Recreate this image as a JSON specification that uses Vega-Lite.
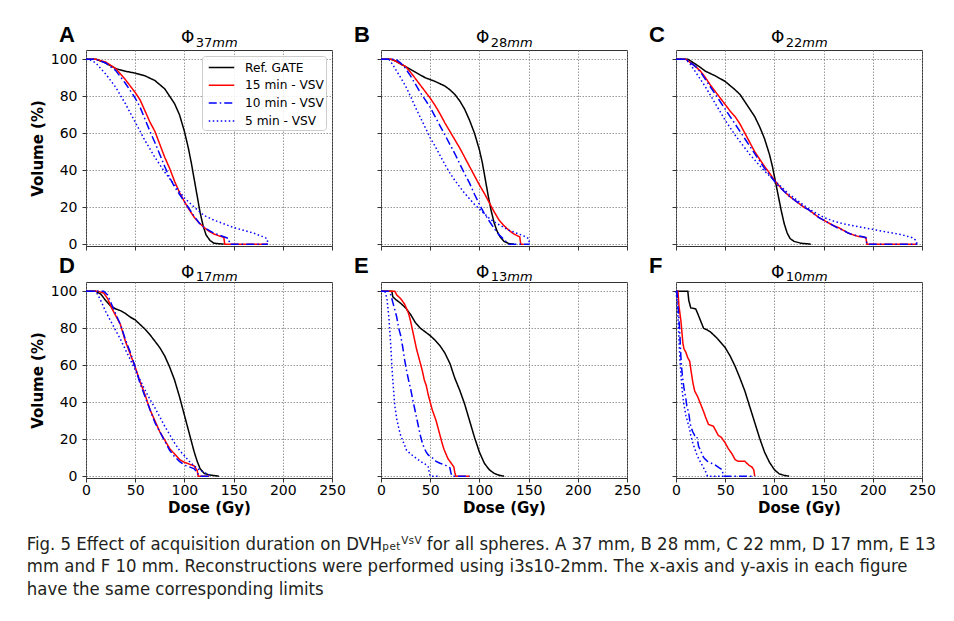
{
  "$schema": "https://vega.github.io/schema/vega-lite/v6.json",
  "background": "white",
  "padding": {"left": 26, "top": 23, "right": 5, "bottom": 5},
  "bounds": "flush",
  "columns": 3,
  "spacing": {"row": 36, "column": 49},
  "title": {
    "text": [
      "Fig. 5  Effect of acquisition duration on DVHₚₑₜⱽˢⱽ for all spheres. A 37 mm, B 28 mm, C 22 mm, D 17 mm, E 13",
      "mm and F 10 mm. Reconstructions were performed using i3s10-2mm. The x-axis and y-axis in each figure",
      "have the same corresponding limits"
    ],
    "orient": "bottom",
    "anchor": "start",
    "frame": "bounds",
    "font": "DejaVu Sans Condensed",
    "fontSize": 18.4,
    "fontWeight": "normal",
    "lineHeight": 22.5,
    "offset": 19,
    "dx": -3,
    "color": "#231f20"
  },
  "resolve": {"legend": {"color": "independent", "strokeDash": "independent"}},
  "datasets": {
    "dvh": [
      {"p":"A","s":"Ref. GATE","d":0,"v":100},{"p":"A","s":"Ref. GATE","d":10,"v":100},{"p":"A","s":"Ref. GATE","d":20,"v":98},{"p":"A","s":"Ref. GATE","d":30,"v":95},{"p":"A","s":"Ref. GATE","d":40,"v":93.5},{"p":"A","s":"Ref. GATE","d":50,"v":92.5},{"p":"A","s":"Ref. GATE","d":60,"v":91},{"p":"A","s":"Ref. GATE","d":70,"v":88.5},{"p":"A","s":"Ref. GATE","d":80,"v":84},{"p":"A","s":"Ref. GATE","d":90,"v":76},{"p":"A","s":"Ref. GATE","d":95,"v":70},{"p":"A","s":"Ref. GATE","d":100,"v":61},{"p":"A","s":"Ref. GATE","d":104,"v":52},{"p":"A","s":"Ref. GATE","d":107,"v":44},{"p":"A","s":"Ref. GATE","d":110,"v":35},{"p":"A","s":"Ref. GATE","d":113,"v":26},{"p":"A","s":"Ref. GATE","d":116,"v":17},{"p":"A","s":"Ref. GATE","d":119,"v":10},{"p":"A","s":"Ref. GATE","d":122,"v":5},{"p":"A","s":"Ref. GATE","d":126,"v":2},{"p":"A","s":"Ref. GATE","d":130,"v":0.5},{"p":"A","s":"Ref. GATE","d":140,"v":0},
      {"p":"A","s":"15 min - VSV","d":0,"v":100},{"p":"A","s":"15 min - VSV","d":10,"v":100},{"p":"A","s":"15 min - VSV","d":20,"v":98.5},{"p":"A","s":"15 min - VSV","d":30,"v":95},{"p":"A","s":"15 min - VSV","d":40,"v":89},{"p":"A","s":"15 min - VSV","d":50,"v":82},{"p":"A","s":"15 min - VSV","d":55,"v":78},{"p":"A","s":"15 min - VSV","d":60,"v":72},{"p":"A","s":"15 min - VSV","d":65,"v":66},{"p":"A","s":"15 min - VSV","d":70,"v":61},{"p":"A","s":"15 min - VSV","d":75,"v":54},{"p":"A","s":"15 min - VSV","d":80,"v":47},{"p":"A","s":"15 min - VSV","d":85,"v":41},{"p":"A","s":"15 min - VSV","d":90,"v":34},{"p":"A","s":"15 min - VSV","d":95,"v":28},{"p":"A","s":"15 min - VSV","d":100,"v":23},{"p":"A","s":"15 min - VSV","d":105,"v":18.5},{"p":"A","s":"15 min - VSV","d":110,"v":14.5},{"p":"A","s":"15 min - VSV","d":115,"v":11.5},{"p":"A","s":"15 min - VSV","d":120,"v":9},{"p":"A","s":"15 min - VSV","d":125,"v":7},{"p":"A","s":"15 min - VSV","d":130,"v":5.5},{"p":"A","s":"15 min - VSV","d":135,"v":4.5},{"p":"A","s":"15 min - VSV","d":140,"v":3.8},{"p":"A","s":"15 min - VSV","d":141,"v":0},{"p":"A","s":"15 min - VSV","d":185,"v":0},
      {"p":"A","s":"10 min - VSV","d":0,"v":100},{"p":"A","s":"10 min - VSV","d":10,"v":100},{"p":"A","s":"10 min - VSV","d":20,"v":98},{"p":"A","s":"10 min - VSV","d":30,"v":94},{"p":"A","s":"10 min - VSV","d":40,"v":87},{"p":"A","s":"10 min - VSV","d":50,"v":79},{"p":"A","s":"10 min - VSV","d":55,"v":74},{"p":"A","s":"10 min - VSV","d":60,"v":67.5},{"p":"A","s":"10 min - VSV","d":65,"v":61},{"p":"A","s":"10 min - VSV","d":70,"v":55},{"p":"A","s":"10 min - VSV","d":75,"v":48.5},{"p":"A","s":"10 min - VSV","d":80,"v":42},{"p":"A","s":"10 min - VSV","d":85,"v":36},{"p":"A","s":"10 min - VSV","d":90,"v":31},{"p":"A","s":"10 min - VSV","d":95,"v":27},{"p":"A","s":"10 min - VSV","d":100,"v":23},{"p":"A","s":"10 min - VSV","d":105,"v":19},{"p":"A","s":"10 min - VSV","d":110,"v":15},{"p":"A","s":"10 min - VSV","d":115,"v":11.5},{"p":"A","s":"10 min - VSV","d":120,"v":9},{"p":"A","s":"10 min - VSV","d":125,"v":7.5},{"p":"A","s":"10 min - VSV","d":130,"v":6},{"p":"A","s":"10 min - VSV","d":135,"v":5},{"p":"A","s":"10 min - VSV","d":140,"v":4},{"p":"A","s":"10 min - VSV","d":145,"v":3},{"p":"A","s":"10 min - VSV","d":146,"v":0},{"p":"A","s":"10 min - VSV","d":185,"v":0},
      {"p":"A","s":"5 min - VSV","d":0,"v":100},{"p":"A","s":"5 min - VSV","d":5,"v":99.5},{"p":"A","s":"5 min - VSV","d":10,"v":98},{"p":"A","s":"5 min - VSV","d":20,"v":92},{"p":"A","s":"5 min - VSV","d":30,"v":85},{"p":"A","s":"5 min - VSV","d":40,"v":76},{"p":"A","s":"5 min - VSV","d":50,"v":66},{"p":"A","s":"5 min - VSV","d":60,"v":56},{"p":"A","s":"5 min - VSV","d":70,"v":47},{"p":"A","s":"5 min - VSV","d":80,"v":39},{"p":"A","s":"5 min - VSV","d":90,"v":32},{"p":"A","s":"5 min - VSV","d":100,"v":25},{"p":"A","s":"5 min - VSV","d":110,"v":20},{"p":"A","s":"5 min - VSV","d":120,"v":15.5},{"p":"A","s":"5 min - VSV","d":130,"v":13},{"p":"A","s":"5 min - VSV","d":140,"v":11},{"p":"A","s":"5 min - VSV","d":150,"v":9},{"p":"A","s":"5 min - VSV","d":160,"v":7.5},{"p":"A","s":"5 min - VSV","d":170,"v":6},{"p":"A","s":"5 min - VSV","d":180,"v":4},{"p":"A","s":"5 min - VSV","d":184,"v":3},{"p":"A","s":"5 min - VSV","d":185,"v":0},

      {"p":"B","s":"Ref. GATE","d":0,"v":100},{"p":"B","s":"Ref. GATE","d":10,"v":100},{"p":"B","s":"Ref. GATE","d":15,"v":99},{"p":"B","s":"Ref. GATE","d":20,"v":97.5},{"p":"B","s":"Ref. GATE","d":25,"v":96},{"p":"B","s":"Ref. GATE","d":35,"v":93},{"p":"B","s":"Ref. GATE","d":45,"v":90},{"p":"B","s":"Ref. GATE","d":55,"v":88},{"p":"B","s":"Ref. GATE","d":65,"v":85.5},{"p":"B","s":"Ref. GATE","d":70,"v":83.5},{"p":"B","s":"Ref. GATE","d":75,"v":81},{"p":"B","s":"Ref. GATE","d":80,"v":77.5},{"p":"B","s":"Ref. GATE","d":85,"v":73},{"p":"B","s":"Ref. GATE","d":90,"v":67},{"p":"B","s":"Ref. GATE","d":95,"v":60},{"p":"B","s":"Ref. GATE","d":100,"v":51},{"p":"B","s":"Ref. GATE","d":103,"v":44},{"p":"B","s":"Ref. GATE","d":106,"v":35},{"p":"B","s":"Ref. GATE","d":109,"v":26},{"p":"B","s":"Ref. GATE","d":112,"v":18},{"p":"B","s":"Ref. GATE","d":115,"v":11.5},{"p":"B","s":"Ref. GATE","d":118,"v":7},{"p":"B","s":"Ref. GATE","d":121,"v":4},{"p":"B","s":"Ref. GATE","d":125,"v":1.5},{"p":"B","s":"Ref. GATE","d":130,"v":0.3},{"p":"B","s":"Ref. GATE","d":135,"v":0},
      {"p":"B","s":"15 min - VSV","d":0,"v":100},{"p":"B","s":"15 min - VSV","d":10,"v":100},{"p":"B","s":"15 min - VSV","d":15,"v":99},{"p":"B","s":"15 min - VSV","d":20,"v":97.5},{"p":"B","s":"15 min - VSV","d":25,"v":96},{"p":"B","s":"15 min - VSV","d":30,"v":93},{"p":"B","s":"15 min - VSV","d":35,"v":89.5},{"p":"B","s":"15 min - VSV","d":40,"v":86},{"p":"B","s":"15 min - VSV","d":45,"v":82.5},{"p":"B","s":"15 min - VSV","d":50,"v":79},{"p":"B","s":"15 min - VSV","d":55,"v":75},{"p":"B","s":"15 min - VSV","d":60,"v":70.5},{"p":"B","s":"15 min - VSV","d":65,"v":65.5},{"p":"B","s":"15 min - VSV","d":70,"v":61},{"p":"B","s":"15 min - VSV","d":75,"v":56.5},{"p":"B","s":"15 min - VSV","d":80,"v":52},{"p":"B","s":"15 min - VSV","d":85,"v":47},{"p":"B","s":"15 min - VSV","d":90,"v":42},{"p":"B","s":"15 min - VSV","d":95,"v":37},{"p":"B","s":"15 min - VSV","d":100,"v":32},{"p":"B","s":"15 min - VSV","d":105,"v":27.5},{"p":"B","s":"15 min - VSV","d":110,"v":22.5},{"p":"B","s":"15 min - VSV","d":115,"v":17.5},{"p":"B","s":"15 min - VSV","d":120,"v":13},{"p":"B","s":"15 min - VSV","d":125,"v":10},{"p":"B","s":"15 min - VSV","d":130,"v":7.5},{"p":"B","s":"15 min - VSV","d":135,"v":5.5},{"p":"B","s":"15 min - VSV","d":140,"v":4.2},{"p":"B","s":"15 min - VSV","d":141,"v":4},{"p":"B","s":"15 min - VSV","d":142,"v":0},{"p":"B","s":"15 min - VSV","d":145,"v":0},
      {"p":"B","s":"10 min - VSV","d":0,"v":100},{"p":"B","s":"10 min - VSV","d":15,"v":100},{"p":"B","s":"10 min - VSV","d":20,"v":98},{"p":"B","s":"10 min - VSV","d":25,"v":95},{"p":"B","s":"10 min - VSV","d":30,"v":91},{"p":"B","s":"10 min - VSV","d":35,"v":86.5},{"p":"B","s":"10 min - VSV","d":40,"v":82},{"p":"B","s":"10 min - VSV","d":45,"v":78},{"p":"B","s":"10 min - VSV","d":50,"v":74},{"p":"B","s":"10 min - VSV","d":55,"v":69},{"p":"B","s":"10 min - VSV","d":60,"v":64},{"p":"B","s":"10 min - VSV","d":65,"v":59},{"p":"B","s":"10 min - VSV","d":70,"v":54},{"p":"B","s":"10 min - VSV","d":75,"v":49},{"p":"B","s":"10 min - VSV","d":80,"v":43.5},{"p":"B","s":"10 min - VSV","d":85,"v":38},{"p":"B","s":"10 min - VSV","d":90,"v":33},{"p":"B","s":"10 min - VSV","d":95,"v":27},{"p":"B","s":"10 min - VSV","d":100,"v":21.5},{"p":"B","s":"10 min - VSV","d":105,"v":16.5},{"p":"B","s":"10 min - VSV","d":110,"v":12.5},{"p":"B","s":"10 min - VSV","d":115,"v":8.5},{"p":"B","s":"10 min - VSV","d":120,"v":5},{"p":"B","s":"10 min - VSV","d":125,"v":2.5},{"p":"B","s":"10 min - VSV","d":128,"v":1},{"p":"B","s":"10 min - VSV","d":130,"v":0},{"p":"B","s":"10 min - VSV","d":151,"v":0},
      {"p":"B","s":"5 min - VSV","d":0,"v":100},{"p":"B","s":"5 min - VSV","d":8,"v":100},{"p":"B","s":"5 min - VSV","d":12,"v":97},{"p":"B","s":"5 min - VSV","d":20,"v":90},{"p":"B","s":"5 min - VSV","d":25,"v":85.5},{"p":"B","s":"5 min - VSV","d":30,"v":80},{"p":"B","s":"5 min - VSV","d":35,"v":74},{"p":"B","s":"5 min - VSV","d":40,"v":68.5},{"p":"B","s":"5 min - VSV","d":45,"v":63},{"p":"B","s":"5 min - VSV","d":50,"v":57.5},{"p":"B","s":"5 min - VSV","d":55,"v":53},{"p":"B","s":"5 min - VSV","d":60,"v":48},{"p":"B","s":"5 min - VSV","d":65,"v":43},{"p":"B","s":"5 min - VSV","d":70,"v":38.5},{"p":"B","s":"5 min - VSV","d":75,"v":34.5},{"p":"B","s":"5 min - VSV","d":80,"v":31},{"p":"B","s":"5 min - VSV","d":85,"v":27.5},{"p":"B","s":"5 min - VSV","d":90,"v":24.5},{"p":"B","s":"5 min - VSV","d":95,"v":21.5},{"p":"B","s":"5 min - VSV","d":100,"v":19},{"p":"B","s":"5 min - VSV","d":105,"v":16.5},{"p":"B","s":"5 min - VSV","d":110,"v":14},{"p":"B","s":"5 min - VSV","d":115,"v":12},{"p":"B","s":"5 min - VSV","d":120,"v":10.5},{"p":"B","s":"5 min - VSV","d":125,"v":9},{"p":"B","s":"5 min - VSV","d":130,"v":7.5},{"p":"B","s":"5 min - VSV","d":135,"v":6.5},{"p":"B","s":"5 min - VSV","d":140,"v":5.5},{"p":"B","s":"5 min - VSV","d":145,"v":4.5},{"p":"B","s":"5 min - VSV","d":150,"v":3},{"p":"B","s":"5 min - VSV","d":151,"v":0},

      {"p":"C","s":"Ref. GATE","d":0,"v":100},{"p":"C","s":"Ref. GATE","d":12,"v":100},{"p":"C","s":"Ref. GATE","d":18,"v":98},{"p":"C","s":"Ref. GATE","d":25,"v":95.5},{"p":"C","s":"Ref. GATE","d":30,"v":93.5},{"p":"C","s":"Ref. GATE","d":40,"v":91},{"p":"C","s":"Ref. GATE","d":50,"v":88},{"p":"C","s":"Ref. GATE","d":60,"v":83.5},{"p":"C","s":"Ref. GATE","d":65,"v":81},{"p":"C","s":"Ref. GATE","d":70,"v":77},{"p":"C","s":"Ref. GATE","d":75,"v":73},{"p":"C","s":"Ref. GATE","d":80,"v":69},{"p":"C","s":"Ref. GATE","d":85,"v":63.5},{"p":"C","s":"Ref. GATE","d":90,"v":57},{"p":"C","s":"Ref. GATE","d":95,"v":48.5},{"p":"C","s":"Ref. GATE","d":98,"v":42},{"p":"C","s":"Ref. GATE","d":101,"v":34},{"p":"C","s":"Ref. GATE","d":104,"v":26},{"p":"C","s":"Ref. GATE","d":107,"v":18},{"p":"C","s":"Ref. GATE","d":110,"v":11},{"p":"C","s":"Ref. GATE","d":113,"v":6},{"p":"C","s":"Ref. GATE","d":116,"v":3},{"p":"C","s":"Ref. GATE","d":120,"v":1.5},{"p":"C","s":"Ref. GATE","d":127,"v":0.5},{"p":"C","s":"Ref. GATE","d":137,"v":0},
      {"p":"C","s":"15 min - VSV","d":0,"v":100},{"p":"C","s":"15 min - VSV","d":10,"v":100},{"p":"C","s":"15 min - VSV","d":15,"v":98},{"p":"C","s":"15 min - VSV","d":20,"v":96},{"p":"C","s":"15 min - VSV","d":25,"v":93.5},{"p":"C","s":"15 min - VSV","d":30,"v":90},{"p":"C","s":"15 min - VSV","d":35,"v":86},{"p":"C","s":"15 min - VSV","d":40,"v":82.5},{"p":"C","s":"15 min - VSV","d":45,"v":79},{"p":"C","s":"15 min - VSV","d":50,"v":75.5},{"p":"C","s":"15 min - VSV","d":55,"v":72},{"p":"C","s":"15 min - VSV","d":60,"v":69},{"p":"C","s":"15 min - VSV","d":65,"v":65},{"p":"C","s":"15 min - VSV","d":70,"v":60},{"p":"C","s":"15 min - VSV","d":75,"v":55},{"p":"C","s":"15 min - VSV","d":80,"v":50},{"p":"C","s":"15 min - VSV","d":85,"v":46},{"p":"C","s":"15 min - VSV","d":90,"v":42},{"p":"C","s":"15 min - VSV","d":95,"v":38.5},{"p":"C","s":"15 min - VSV","d":100,"v":34.5},{"p":"C","s":"15 min - VSV","d":105,"v":31.5},{"p":"C","s":"15 min - VSV","d":110,"v":28.5},{"p":"C","s":"15 min - VSV","d":115,"v":26},{"p":"C","s":"15 min - VSV","d":120,"v":24},{"p":"C","s":"15 min - VSV","d":125,"v":22},{"p":"C","s":"15 min - VSV","d":130,"v":20},{"p":"C","s":"15 min - VSV","d":135,"v":18.5},{"p":"C","s":"15 min - VSV","d":140,"v":16.5},{"p":"C","s":"15 min - VSV","d":145,"v":14.5},{"p":"C","s":"15 min - VSV","d":150,"v":13},{"p":"C","s":"15 min - VSV","d":155,"v":11.5},{"p":"C","s":"15 min - VSV","d":160,"v":10},{"p":"C","s":"15 min - VSV","d":165,"v":9},{"p":"C","s":"15 min - VSV","d":170,"v":7.5},{"p":"C","s":"15 min - VSV","d":175,"v":6},{"p":"C","s":"15 min - VSV","d":180,"v":5},{"p":"C","s":"15 min - VSV","d":185,"v":4.2},{"p":"C","s":"15 min - VSV","d":190,"v":3.8},{"p":"C","s":"15 min - VSV","d":193,"v":3.5},{"p":"C","s":"15 min - VSV","d":194,"v":0},{"p":"C","s":"15 min - VSV","d":245,"v":0},
      {"p":"C","s":"10 min - VSV","d":0,"v":100},{"p":"C","s":"10 min - VSV","d":10,"v":100},{"p":"C","s":"10 min - VSV","d":15,"v":98},{"p":"C","s":"10 min - VSV","d":20,"v":96},{"p":"C","s":"10 min - VSV","d":25,"v":93},{"p":"C","s":"10 min - VSV","d":30,"v":89},{"p":"C","s":"10 min - VSV","d":35,"v":85},{"p":"C","s":"10 min - VSV","d":40,"v":81},{"p":"C","s":"10 min - VSV","d":45,"v":77},{"p":"C","s":"10 min - VSV","d":50,"v":73},{"p":"C","s":"10 min - VSV","d":55,"v":69},{"p":"C","s":"10 min - VSV","d":60,"v":65},{"p":"C","s":"10 min - VSV","d":65,"v":61},{"p":"C","s":"10 min - VSV","d":70,"v":57},{"p":"C","s":"10 min - VSV","d":75,"v":53},{"p":"C","s":"10 min - VSV","d":80,"v":49},{"p":"C","s":"10 min - VSV","d":85,"v":45},{"p":"C","s":"10 min - VSV","d":90,"v":41},{"p":"C","s":"10 min - VSV","d":95,"v":37.5},{"p":"C","s":"10 min - VSV","d":100,"v":34},{"p":"C","s":"10 min - VSV","d":105,"v":31},{"p":"C","s":"10 min - VSV","d":110,"v":28.5},{"p":"C","s":"10 min - VSV","d":115,"v":26},{"p":"C","s":"10 min - VSV","d":120,"v":24},{"p":"C","s":"10 min - VSV","d":125,"v":22},{"p":"C","s":"10 min - VSV","d":130,"v":20},{"p":"C","s":"10 min - VSV","d":135,"v":18.5},{"p":"C","s":"10 min - VSV","d":140,"v":16.5},{"p":"C","s":"10 min - VSV","d":145,"v":14.5},{"p":"C","s":"10 min - VSV","d":150,"v":13},{"p":"C","s":"10 min - VSV","d":155,"v":11.5},{"p":"C","s":"10 min - VSV","d":160,"v":10},{"p":"C","s":"10 min - VSV","d":165,"v":8.5},{"p":"C","s":"10 min - VSV","d":170,"v":7.5},{"p":"C","s":"10 min - VSV","d":175,"v":6},{"p":"C","s":"10 min - VSV","d":180,"v":5},{"p":"C","s":"10 min - VSV","d":185,"v":4.5},{"p":"C","s":"10 min - VSV","d":190,"v":4},{"p":"C","s":"10 min - VSV","d":193,"v":3.5},{"p":"C","s":"10 min - VSV","d":194,"v":0},{"p":"C","s":"10 min - VSV","d":245,"v":0},
      {"p":"C","s":"5 min - VSV","d":0,"v":100},{"p":"C","s":"5 min - VSV","d":10,"v":100},{"p":"C","s":"5 min - VSV","d":15,"v":97},{"p":"C","s":"5 min - VSV","d":20,"v":93},{"p":"C","s":"5 min - VSV","d":25,"v":89},{"p":"C","s":"5 min - VSV","d":30,"v":85},{"p":"C","s":"5 min - VSV","d":35,"v":80.5},{"p":"C","s":"5 min - VSV","d":40,"v":76},{"p":"C","s":"5 min - VSV","d":45,"v":71.5},{"p":"C","s":"5 min - VSV","d":50,"v":67},{"p":"C","s":"5 min - VSV","d":55,"v":63},{"p":"C","s":"5 min - VSV","d":60,"v":59},{"p":"C","s":"5 min - VSV","d":65,"v":55.5},{"p":"C","s":"5 min - VSV","d":70,"v":52},{"p":"C","s":"5 min - VSV","d":75,"v":48.5},{"p":"C","s":"5 min - VSV","d":80,"v":45.5},{"p":"C","s":"5 min - VSV","d":85,"v":42.5},{"p":"C","s":"5 min - VSV","d":90,"v":39.5},{"p":"C","s":"5 min - VSV","d":95,"v":37},{"p":"C","s":"5 min - VSV","d":100,"v":34.5},{"p":"C","s":"5 min - VSV","d":105,"v":32},{"p":"C","s":"5 min - VSV","d":110,"v":29.5},{"p":"C","s":"5 min - VSV","d":115,"v":27},{"p":"C","s":"5 min - VSV","d":120,"v":25},{"p":"C","s":"5 min - VSV","d":125,"v":23},{"p":"C","s":"5 min - VSV","d":130,"v":21},{"p":"C","s":"5 min - VSV","d":135,"v":19},{"p":"C","s":"5 min - VSV","d":140,"v":17.5},{"p":"C","s":"5 min - VSV","d":145,"v":16},{"p":"C","s":"5 min - VSV","d":150,"v":14.5},{"p":"C","s":"5 min - VSV","d":160,"v":12.5},{"p":"C","s":"5 min - VSV","d":170,"v":11},{"p":"C","s":"5 min - VSV","d":180,"v":10},{"p":"C","s":"5 min - VSV","d":190,"v":9},{"p":"C","s":"5 min - VSV","d":200,"v":8},{"p":"C","s":"5 min - VSV","d":210,"v":7},{"p":"C","s":"5 min - VSV","d":220,"v":6},{"p":"C","s":"5 min - VSV","d":230,"v":5},{"p":"C","s":"5 min - VSV","d":240,"v":3.5},{"p":"C","s":"5 min - VSV","d":244,"v":2},{"p":"C","s":"5 min - VSV","d":245,"v":0},

      {"p":"D","s":"Ref. GATE","d":0,"v":100},{"p":"D","s":"Ref. GATE","d":10,"v":100},{"p":"D","s":"Ref. GATE","d":15,"v":98.5},{"p":"D","s":"Ref. GATE","d":20,"v":95},{"p":"D","s":"Ref. GATE","d":25,"v":92},{"p":"D","s":"Ref. GATE","d":30,"v":90.5},{"p":"D","s":"Ref. GATE","d":35,"v":89.5},{"p":"D","s":"Ref. GATE","d":40,"v":88},{"p":"D","s":"Ref. GATE","d":45,"v":86},{"p":"D","s":"Ref. GATE","d":50,"v":84.5},{"p":"D","s":"Ref. GATE","d":55,"v":82},{"p":"D","s":"Ref. GATE","d":60,"v":79.5},{"p":"D","s":"Ref. GATE","d":65,"v":76.5},{"p":"D","s":"Ref. GATE","d":70,"v":73},{"p":"D","s":"Ref. GATE","d":75,"v":69.5},{"p":"D","s":"Ref. GATE","d":80,"v":65},{"p":"D","s":"Ref. GATE","d":85,"v":59},{"p":"D","s":"Ref. GATE","d":90,"v":52},{"p":"D","s":"Ref. GATE","d":95,"v":43},{"p":"D","s":"Ref. GATE","d":100,"v":33},{"p":"D","s":"Ref. GATE","d":105,"v":23},{"p":"D","s":"Ref. GATE","d":108,"v":17},{"p":"D","s":"Ref. GATE","d":110,"v":13},{"p":"D","s":"Ref. GATE","d":113,"v":8},{"p":"D","s":"Ref. GATE","d":116,"v":4},{"p":"D","s":"Ref. GATE","d":120,"v":1.5},{"p":"D","s":"Ref. GATE","d":125,"v":0.7},{"p":"D","s":"Ref. GATE","d":135,"v":0},
      {"p":"D","s":"15 min - VSV","d":0,"v":100},{"p":"D","s":"15 min - VSV","d":12,"v":100},{"p":"D","s":"15 min - VSV","d":18,"v":99},{"p":"D","s":"15 min - VSV","d":22,"v":96},{"p":"D","s":"15 min - VSV","d":26,"v":91},{"p":"D","s":"15 min - VSV","d":30,"v":87},{"p":"D","s":"15 min - VSV","d":35,"v":82},{"p":"D","s":"15 min - VSV","d":40,"v":73},{"p":"D","s":"15 min - VSV","d":45,"v":66},{"p":"D","s":"15 min - VSV","d":50,"v":59},{"p":"D","s":"15 min - VSV","d":55,"v":51},{"p":"D","s":"15 min - VSV","d":60,"v":44},{"p":"D","s":"15 min - VSV","d":65,"v":36},{"p":"D","s":"15 min - VSV","d":70,"v":30},{"p":"D","s":"15 min - VSV","d":75,"v":24},{"p":"D","s":"15 min - VSV","d":80,"v":19.5},{"p":"D","s":"15 min - VSV","d":85,"v":15},{"p":"D","s":"15 min - VSV","d":90,"v":12},{"p":"D","s":"15 min - VSV","d":95,"v":9},{"p":"D","s":"15 min - VSV","d":100,"v":7.5},{"p":"D","s":"15 min - VSV","d":105,"v":6.5},{"p":"D","s":"15 min - VSV","d":110,"v":5.5},{"p":"D","s":"15 min - VSV","d":113,"v":3},{"p":"D","s":"15 min - VSV","d":114,"v":0},{"p":"D","s":"15 min - VSV","d":125,"v":0},
      {"p":"D","s":"10 min - VSV","d":0,"v":100},{"p":"D","s":"10 min - VSV","d":18,"v":100},{"p":"D","s":"10 min - VSV","d":22,"v":98},{"p":"D","s":"10 min - VSV","d":26,"v":93},{"p":"D","s":"10 min - VSV","d":30,"v":88},{"p":"D","s":"10 min - VSV","d":35,"v":82},{"p":"D","s":"10 min - VSV","d":40,"v":74},{"p":"D","s":"10 min - VSV","d":45,"v":67},{"p":"D","s":"10 min - VSV","d":50,"v":59},{"p":"D","s":"10 min - VSV","d":55,"v":50},{"p":"D","s":"10 min - VSV","d":60,"v":43},{"p":"D","s":"10 min - VSV","d":65,"v":36},{"p":"D","s":"10 min - VSV","d":70,"v":29},{"p":"D","s":"10 min - VSV","d":75,"v":24},{"p":"D","s":"10 min - VSV","d":80,"v":19},{"p":"D","s":"10 min - VSV","d":85,"v":14},{"p":"D","s":"10 min - VSV","d":90,"v":10.5},{"p":"D","s":"10 min - VSV","d":95,"v":8},{"p":"D","s":"10 min - VSV","d":100,"v":6},{"p":"D","s":"10 min - VSV","d":105,"v":5},{"p":"D","s":"10 min - VSV","d":110,"v":4},{"p":"D","s":"10 min - VSV","d":113,"v":2},{"p":"D","s":"10 min - VSV","d":115,"v":0},{"p":"D","s":"10 min - VSV","d":125,"v":0},
      {"p":"D","s":"5 min - VSV","d":0,"v":100},{"p":"D","s":"5 min - VSV","d":10,"v":100},{"p":"D","s":"5 min - VSV","d":15,"v":95},{"p":"D","s":"5 min - VSV","d":20,"v":89},{"p":"D","s":"5 min - VSV","d":25,"v":84},{"p":"D","s":"5 min - VSV","d":30,"v":79},{"p":"D","s":"5 min - VSV","d":35,"v":74},{"p":"D","s":"5 min - VSV","d":40,"v":68.5},{"p":"D","s":"5 min - VSV","d":45,"v":63},{"p":"D","s":"5 min - VSV","d":50,"v":57.5},{"p":"D","s":"5 min - VSV","d":55,"v":52},{"p":"D","s":"5 min - VSV","d":60,"v":46.5},{"p":"D","s":"5 min - VSV","d":65,"v":41.5},{"p":"D","s":"5 min - VSV","d":70,"v":37},{"p":"D","s":"5 min - VSV","d":75,"v":32},{"p":"D","s":"5 min - VSV","d":80,"v":27},{"p":"D","s":"5 min - VSV","d":85,"v":22.5},{"p":"D","s":"5 min - VSV","d":90,"v":18},{"p":"D","s":"5 min - VSV","d":95,"v":14},{"p":"D","s":"5 min - VSV","d":100,"v":11},{"p":"D","s":"5 min - VSV","d":105,"v":8},{"p":"D","s":"5 min - VSV","d":110,"v":5.5},{"p":"D","s":"5 min - VSV","d":115,"v":3.5},{"p":"D","s":"5 min - VSV","d":120,"v":2},{"p":"D","s":"5 min - VSV","d":125,"v":0.8},{"p":"D","s":"5 min - VSV","d":128,"v":0},

      {"p":"E","s":"Ref. GATE","d":0,"v":100},{"p":"E","s":"Ref. GATE","d":11,"v":100},{"p":"E","s":"Ref. GATE","d":12,"v":97},{"p":"E","s":"Ref. GATE","d":15,"v":95.5},{"p":"E","s":"Ref. GATE","d":20,"v":93.5},{"p":"E","s":"Ref. GATE","d":25,"v":91},{"p":"E","s":"Ref. GATE","d":30,"v":87.5},{"p":"E","s":"Ref. GATE","d":35,"v":83},{"p":"E","s":"Ref. GATE","d":40,"v":80},{"p":"E","s":"Ref. GATE","d":45,"v":78},{"p":"E","s":"Ref. GATE","d":50,"v":76},{"p":"E","s":"Ref. GATE","d":55,"v":73.5},{"p":"E","s":"Ref. GATE","d":60,"v":70.5},{"p":"E","s":"Ref. GATE","d":65,"v":66.5},{"p":"E","s":"Ref. GATE","d":70,"v":61},{"p":"E","s":"Ref. GATE","d":75,"v":53},{"p":"E","s":"Ref. GATE","d":80,"v":46.5},{"p":"E","s":"Ref. GATE","d":85,"v":39},{"p":"E","s":"Ref. GATE","d":90,"v":30},{"p":"E","s":"Ref. GATE","d":95,"v":21},{"p":"E","s":"Ref. GATE","d":100,"v":13},{"p":"E","s":"Ref. GATE","d":105,"v":7},{"p":"E","s":"Ref. GATE","d":110,"v":3.5},{"p":"E","s":"Ref. GATE","d":115,"v":1.5},{"p":"E","s":"Ref. GATE","d":120,"v":0.5},{"p":"E","s":"Ref. GATE","d":125,"v":0},
      {"p":"E","s":"15 min - VSV","d":0,"v":100},{"p":"E","s":"15 min - VSV","d":14,"v":100},{"p":"E","s":"15 min - VSV","d":16,"v":98},{"p":"E","s":"15 min - VSV","d":20,"v":96},{"p":"E","s":"15 min - VSV","d":24,"v":93},{"p":"E","s":"15 min - VSV","d":28,"v":88},{"p":"E","s":"15 min - VSV","d":30,"v":84},{"p":"E","s":"15 min - VSV","d":32,"v":79},{"p":"E","s":"15 min - VSV","d":34,"v":74},{"p":"E","s":"15 min - VSV","d":36,"v":69},{"p":"E","s":"15 min - VSV","d":38,"v":65},{"p":"E","s":"15 min - VSV","d":40,"v":61},{"p":"E","s":"15 min - VSV","d":42,"v":57},{"p":"E","s":"15 min - VSV","d":44,"v":52},{"p":"E","s":"15 min - VSV","d":46,"v":49},{"p":"E","s":"15 min - VSV","d":48,"v":44},{"p":"E","s":"15 min - VSV","d":50,"v":40},{"p":"E","s":"15 min - VSV","d":52,"v":36},{"p":"E","s":"15 min - VSV","d":54,"v":33},{"p":"E","s":"15 min - VSV","d":56,"v":30},{"p":"E","s":"15 min - VSV","d":58,"v":26},{"p":"E","s":"15 min - VSV","d":60,"v":22},{"p":"E","s":"15 min - VSV","d":62,"v":18},{"p":"E","s":"15 min - VSV","d":64,"v":14.5},{"p":"E","s":"15 min - VSV","d":66,"v":12},{"p":"E","s":"15 min - VSV","d":68,"v":9.5},{"p":"E","s":"15 min - VSV","d":70,"v":8},{"p":"E","s":"15 min - VSV","d":72,"v":6.5},{"p":"E","s":"15 min - VSV","d":74,"v":5},{"p":"E","s":"15 min - VSV","d":75,"v":2},{"p":"E","s":"15 min - VSV","d":76,"v":0},{"p":"E","s":"15 min - VSV","d":90,"v":0},
      {"p":"E","s":"10 min - VSV","d":0,"v":100},{"p":"E","s":"10 min - VSV","d":8,"v":100},{"p":"E","s":"10 min - VSV","d":10,"v":98},{"p":"E","s":"10 min - VSV","d":12,"v":94},{"p":"E","s":"10 min - VSV","d":14,"v":90},{"p":"E","s":"10 min - VSV","d":16,"v":86},{"p":"E","s":"10 min - VSV","d":18,"v":80},{"p":"E","s":"10 min - VSV","d":20,"v":76},{"p":"E","s":"10 min - VSV","d":22,"v":70},{"p":"E","s":"10 min - VSV","d":24,"v":63},{"p":"E","s":"10 min - VSV","d":26,"v":57},{"p":"E","s":"10 min - VSV","d":28,"v":52},{"p":"E","s":"10 min - VSV","d":30,"v":47.5},{"p":"E","s":"10 min - VSV","d":32,"v":42},{"p":"E","s":"10 min - VSV","d":34,"v":37},{"p":"E","s":"10 min - VSV","d":36,"v":32},{"p":"E","s":"10 min - VSV","d":38,"v":27},{"p":"E","s":"10 min - VSV","d":40,"v":22},{"p":"E","s":"10 min - VSV","d":42,"v":18},{"p":"E","s":"10 min - VSV","d":44,"v":15},{"p":"E","s":"10 min - VSV","d":46,"v":13},{"p":"E","s":"10 min - VSV","d":48,"v":11.5},{"p":"E","s":"10 min - VSV","d":52,"v":10},{"p":"E","s":"10 min - VSV","d":56,"v":8},{"p":"E","s":"10 min - VSV","d":60,"v":7},{"p":"E","s":"10 min - VSV","d":65,"v":6},{"p":"E","s":"10 min - VSV","d":70,"v":4.5},{"p":"E","s":"10 min - VSV","d":71,"v":2},{"p":"E","s":"10 min - VSV","d":72,"v":0},{"p":"E","s":"10 min - VSV","d":90,"v":0},
      {"p":"E","s":"5 min - VSV","d":0,"v":100},{"p":"E","s":"5 min - VSV","d":4,"v":100},{"p":"E","s":"5 min - VSV","d":6,"v":96},{"p":"E","s":"5 min - VSV","d":7,"v":91},{"p":"E","s":"5 min - VSV","d":8,"v":86},{"p":"E","s":"5 min - VSV","d":9,"v":78},{"p":"E","s":"5 min - VSV","d":10,"v":70},{"p":"E","s":"5 min - VSV","d":11,"v":60},{"p":"E","s":"5 min - VSV","d":12,"v":52},{"p":"E","s":"5 min - VSV","d":13,"v":45},{"p":"E","s":"5 min - VSV","d":14,"v":38},{"p":"E","s":"5 min - VSV","d":16,"v":31},{"p":"E","s":"5 min - VSV","d":18,"v":26},{"p":"E","s":"5 min - VSV","d":20,"v":22},{"p":"E","s":"5 min - VSV","d":23,"v":18},{"p":"E","s":"5 min - VSV","d":26,"v":14},{"p":"E","s":"5 min - VSV","d":30,"v":12},{"p":"E","s":"5 min - VSV","d":35,"v":10},{"p":"E","s":"5 min - VSV","d":40,"v":8},{"p":"E","s":"5 min - VSV","d":45,"v":6.5},{"p":"E","s":"5 min - VSV","d":48,"v":5},{"p":"E","s":"5 min - VSV","d":49,"v":2},{"p":"E","s":"5 min - VSV","d":50,"v":0},{"p":"E","s":"5 min - VSV","d":60,"v":0},

      {"p":"F","s":"Ref. GATE","d":0,"v":100},{"p":"F","s":"Ref. GATE","d":12,"v":100},{"p":"F","s":"Ref. GATE","d":13,"v":95},{"p":"F","s":"Ref. GATE","d":15,"v":91},{"p":"F","s":"Ref. GATE","d":20,"v":90.5},{"p":"F","s":"Ref. GATE","d":22,"v":88},{"p":"F","s":"Ref. GATE","d":25,"v":84},{"p":"F","s":"Ref. GATE","d":28,"v":80},{"p":"F","s":"Ref. GATE","d":32,"v":79},{"p":"F","s":"Ref. GATE","d":35,"v":78},{"p":"F","s":"Ref. GATE","d":38,"v":76.5},{"p":"F","s":"Ref. GATE","d":42,"v":74.5},{"p":"F","s":"Ref. GATE","d":46,"v":72},{"p":"F","s":"Ref. GATE","d":50,"v":69.5},{"p":"F","s":"Ref. GATE","d":55,"v":65},{"p":"F","s":"Ref. GATE","d":60,"v":59.5},{"p":"F","s":"Ref. GATE","d":65,"v":53},{"p":"F","s":"Ref. GATE","d":70,"v":46},{"p":"F","s":"Ref. GATE","d":75,"v":37.5},{"p":"F","s":"Ref. GATE","d":80,"v":29},{"p":"F","s":"Ref. GATE","d":85,"v":20.5},{"p":"F","s":"Ref. GATE","d":90,"v":13},{"p":"F","s":"Ref. GATE","d":95,"v":7.5},{"p":"F","s":"Ref. GATE","d":100,"v":3.5},{"p":"F","s":"Ref. GATE","d":105,"v":1.2},{"p":"F","s":"Ref. GATE","d":110,"v":0.4},{"p":"F","s":"Ref. GATE","d":115,"v":0},
      {"p":"F","s":"15 min - VSV","d":0,"v":100},{"p":"F","s":"15 min - VSV","d":2,"v":100},{"p":"F","s":"15 min - VSV","d":3,"v":92},{"p":"F","s":"15 min - VSV","d":4,"v":88},{"p":"F","s":"15 min - VSV","d":5,"v":84},{"p":"F","s":"15 min - VSV","d":6,"v":78},{"p":"F","s":"15 min - VSV","d":7,"v":72},{"p":"F","s":"15 min - VSV","d":8,"v":69},{"p":"F","s":"15 min - VSV","d":10,"v":67},{"p":"F","s":"15 min - VSV","d":12,"v":64},{"p":"F","s":"15 min - VSV","d":14,"v":62},{"p":"F","s":"15 min - VSV","d":15,"v":58},{"p":"F","s":"15 min - VSV","d":17,"v":51},{"p":"F","s":"15 min - VSV","d":19,"v":46},{"p":"F","s":"15 min - VSV","d":22,"v":43},{"p":"F","s":"15 min - VSV","d":25,"v":39},{"p":"F","s":"15 min - VSV","d":28,"v":35},{"p":"F","s":"15 min - VSV","d":30,"v":32},{"p":"F","s":"15 min - VSV","d":33,"v":28},{"p":"F","s":"15 min - VSV","d":38,"v":27},{"p":"F","s":"15 min - VSV","d":40,"v":25},{"p":"F","s":"15 min - VSV","d":43,"v":22},{"p":"F","s":"15 min - VSV","d":46,"v":21},{"p":"F","s":"15 min - VSV","d":50,"v":18},{"p":"F","s":"15 min - VSV","d":53,"v":15},{"p":"F","s":"15 min - VSV","d":57,"v":12},{"p":"F","s":"15 min - VSV","d":60,"v":9},{"p":"F","s":"15 min - VSV","d":63,"v":8},{"p":"F","s":"15 min - VSV","d":70,"v":8},{"p":"F","s":"15 min - VSV","d":74,"v":6},{"p":"F","s":"15 min - VSV","d":77,"v":5},{"p":"F","s":"15 min - VSV","d":79,"v":3.5},{"p":"F","s":"15 min - VSV","d":80,"v":0},
      {"p":"F","s":"10 min - VSV","d":0,"v":100},{"p":"F","s":"10 min - VSV","d":1,"v":100},{"p":"F","s":"10 min - VSV","d":2,"v":92},{"p":"F","s":"10 min - VSV","d":3,"v":85},{"p":"F","s":"10 min - VSV","d":4,"v":76},{"p":"F","s":"10 min - VSV","d":5,"v":64},{"p":"F","s":"10 min - VSV","d":6,"v":57},{"p":"F","s":"10 min - VSV","d":7,"v":52},{"p":"F","s":"10 min - VSV","d":8,"v":48},{"p":"F","s":"10 min - VSV","d":9,"v":45},{"p":"F","s":"10 min - VSV","d":10,"v":42},{"p":"F","s":"10 min - VSV","d":11,"v":38},{"p":"F","s":"10 min - VSV","d":12,"v":36},{"p":"F","s":"10 min - VSV","d":13,"v":34},{"p":"F","s":"10 min - VSV","d":14,"v":30},{"p":"F","s":"10 min - VSV","d":15,"v":27},{"p":"F","s":"10 min - VSV","d":17,"v":24},{"p":"F","s":"10 min - VSV","d":19,"v":22},{"p":"F","s":"10 min - VSV","d":21,"v":22},{"p":"F","s":"10 min - VSV","d":22,"v":19},{"p":"F","s":"10 min - VSV","d":23,"v":16},{"p":"F","s":"10 min - VSV","d":25,"v":14},{"p":"F","s":"10 min - VSV","d":27,"v":11},{"p":"F","s":"10 min - VSV","d":29,"v":9.5},{"p":"F","s":"10 min - VSV","d":32,"v":8},{"p":"F","s":"10 min - VSV","d":36,"v":7},{"p":"F","s":"10 min - VSV","d":40,"v":6},{"p":"F","s":"10 min - VSV","d":44,"v":4.5},{"p":"F","s":"10 min - VSV","d":47,"v":3.5},{"p":"F","s":"10 min - VSV","d":48,"v":0},{"p":"F","s":"10 min - VSV","d":80,"v":0},
      {"p":"F","s":"5 min - VSV","d":0,"v":100},{"p":"F","s":"5 min - VSV","d":1,"v":95},{"p":"F","s":"5 min - VSV","d":2,"v":86},{"p":"F","s":"5 min - VSV","d":3,"v":74},{"p":"F","s":"5 min - VSV","d":4,"v":63},{"p":"F","s":"5 min - VSV","d":5,"v":55},{"p":"F","s":"5 min - VSV","d":6,"v":48},{"p":"F","s":"5 min - VSV","d":7,"v":43},{"p":"F","s":"5 min - VSV","d":8,"v":39},{"p":"F","s":"5 min - VSV","d":9,"v":36},{"p":"F","s":"5 min - VSV","d":10,"v":33},{"p":"F","s":"5 min - VSV","d":12,"v":29},{"p":"F","s":"5 min - VSV","d":14,"v":25},{"p":"F","s":"5 min - VSV","d":15,"v":22},{"p":"F","s":"5 min - VSV","d":17,"v":18},{"p":"F","s":"5 min - VSV","d":19,"v":15},{"p":"F","s":"5 min - VSV","d":21,"v":12},{"p":"F","s":"5 min - VSV","d":23,"v":9.5},{"p":"F","s":"5 min - VSV","d":25,"v":7.5},{"p":"F","s":"5 min - VSV","d":27,"v":5.5},{"p":"F","s":"5 min - VSV","d":29,"v":3.5},{"p":"F","s":"5 min - VSV","d":31,"v":1.5},{"p":"F","s":"5 min - VSV","d":32,"v":0},{"p":"F","s":"5 min - VSV","d":48,"v":0}
    ]
  },
  "concat": [
    {
      "width": 246, "height": 196,
      "layer": [
        {
          "data": {"name": "dvh"},
          "transform": [{"filter": "datum.p == 'A'"}],
          "mark": {"type": "line", "strokeWidth": 1.5, "strokeCap": "butt"},
          "encoding": {
            "x": {"field": "d", "type": "quantitative", "scale": {"domain": [0, 250], "nice": false, "zero": false}, "axis": {"values": [0, 50, 100, 150, 200, 250], "labels": false, "title": null, "labelOverlap": false}},
            "y": {"field": "v", "type": "quantitative", "scale": {"domain": [-1, 105], "nice": false, "zero": false}, "axis": {"values": [0, 20, 40, 60, 80, 100], "title": "Volume (%)", "labelOverlap": false}},
            "color": {"field": "s", "type": "nominal", "scale": {"domain": ["Ref. GATE", "15 min - VSV", "10 min - VSV", "5 min - VSV"], "range": ["#000000", "#ff0000", "#0000ff", "#0000ff"]}, "legend": {"title": null, "orient": "top-right", "labelExpr": "datum.label == '5 min - VSV' ? '\u00a0\u00a05 min - VSV' : datum.label"}},
            "strokeDash": {"field": "s", "type": "nominal", "scale": {"domain": ["Ref. GATE", "15 min - VSV", "10 min - VSV", "5 min - VSV"], "range": [[1, 0], [1, 0], [8, 3, 1.5, 3], [1.5, 2.5]]}, "legend": {"title": null, "orient": "top-right", "labelExpr": "datum.label == '5 min - VSV' ? '\u00a0\u00a05 min - VSV' : datum.label"}}
          }
        },
        {"data": {"values": [{"t": "A"}]}, "mark": {"type": "text", "align": "left", "baseline": "alphabetic", "font": "Liberation Sans", "fontSize": 22, "fontWeight": "bold", "color": "#000"}, "encoding": {"x": {"datum": -27.5, "type": "quantitative", "axis": {"values": [0, 50, 100, 150, 200, 250], "labels": false, "title": null, "labelOverlap": false}}, "y": {"datum": 109.3, "type": "quantitative", "axis": {"values": [0, 20, 40, 60, 80, 100], "title": "Volume (%)", "labelOverlap": false}}, "text": {"field": "t"}}},
        {"data": {"values": [{"t": "Φ"}]}, "mark": {"type": "text", "align": "left", "baseline": "alphabetic", "fontSize": 17, "color": "#000"}, "encoding": {"x": {"datum": 96.5, "type": "quantitative", "axis": {"values": [0, 50, 100, 150, 200, 250], "labels": false, "title": null, "labelOverlap": false}}, "y": {"datum": 108.6, "type": "quantitative", "axis": {"values": [0, 20, 40, 60, 80, 100], "title": "Volume (%)", "labelOverlap": false}}, "text": {"field": "t"}}},
        {"data": {"values": [{"t": "37"}]}, "mark": {"type": "text", "align": "left", "baseline": "alphabetic", "fontSize": 13, "color": "#000"}, "encoding": {"x": {"datum": 111.5, "type": "quantitative", "axis": {"values": [0, 50, 100, 150, 200, 250], "labels": false, "title": null, "labelOverlap": false}}, "y": {"datum": 106.7, "type": "quantitative", "axis": {"values": [0, 20, 40, 60, 80, 100], "title": "Volume (%)", "labelOverlap": false}}, "text": {"field": "t"}}},
        {"data": {"values": [{"t": "mm"}]}, "mark": {"type": "text", "align": "left", "baseline": "alphabetic", "fontSize": 13, "fontStyle": "italic", "color": "#000"}, "encoding": {"x": {"datum": 128.3, "type": "quantitative", "axis": {"values": [0, 50, 100, 150, 200, 250], "labels": false, "title": null, "labelOverlap": false}}, "y": {"datum": 106.7, "type": "quantitative", "axis": {"values": [0, 20, 40, 60, 80, 100], "title": "Volume (%)", "labelOverlap": false}}, "text": {"field": "t"}}}
      ]
    },
    {
      "width": 246, "height": 196,
      "layer": [
        {
          "data": {"name": "dvh"},
          "transform": [{"filter": "datum.p == 'B'"}],
          "mark": {"type": "line", "strokeWidth": 1.5, "strokeCap": "butt"},
          "encoding": {
            "x": {"field": "d", "type": "quantitative", "scale": {"domain": [0, 250], "nice": false, "zero": false}, "axis": {"values": [0, 50, 100, 150, 200, 250], "labels": false, "title": null, "labelOverlap": false}},
            "y": {"field": "v", "type": "quantitative", "scale": {"domain": [-1, 105], "nice": false, "zero": false}, "axis": {"values": [0, 20, 40, 60, 80, 100], "labels": false, "title": null, "labelOverlap": false}},
            "color": {"field": "s", "type": "nominal", "scale": {"domain": ["Ref. GATE", "15 min - VSV", "10 min - VSV", "5 min - VSV"], "range": ["#000000", "#ff0000", "#0000ff", "#0000ff"]}, "legend": null},
            "strokeDash": {"field": "s", "type": "nominal", "scale": {"domain": ["Ref. GATE", "15 min - VSV", "10 min - VSV", "5 min - VSV"], "range": [[1, 0], [1, 0], [8, 3, 1.5, 3], [1.5, 2.5]]}, "legend": null}
          }
        },
        {"data": {"values": [{"t": "B"}]}, "mark": {"type": "text", "align": "left", "baseline": "alphabetic", "font": "Liberation Sans", "fontSize": 22, "fontWeight": "bold", "color": "#000"}, "encoding": {"x": {"datum": -27.5, "type": "quantitative", "axis": {"values": [0, 50, 100, 150, 200, 250], "labels": false, "title": null, "labelOverlap": false}}, "y": {"datum": 109.3, "type": "quantitative", "axis": {"values": [0, 20, 40, 60, 80, 100], "labels": false, "title": null, "labelOverlap": false}}, "text": {"field": "t"}}},
        {"data": {"values": [{"t": "Φ"}]}, "mark": {"type": "text", "align": "left", "baseline": "alphabetic", "fontSize": 17, "color": "#000"}, "encoding": {"x": {"datum": 96.5, "type": "quantitative", "axis": {"values": [0, 50, 100, 150, 200, 250], "labels": false, "title": null, "labelOverlap": false}}, "y": {"datum": 108.6, "type": "quantitative", "axis": {"values": [0, 20, 40, 60, 80, 100], "labels": false, "title": null, "labelOverlap": false}}, "text": {"field": "t"}}},
        {"data": {"values": [{"t": "28"}]}, "mark": {"type": "text", "align": "left", "baseline": "alphabetic", "fontSize": 13, "color": "#000"}, "encoding": {"x": {"datum": 111.5, "type": "quantitative", "axis": {"values": [0, 50, 100, 150, 200, 250], "labels": false, "title": null, "labelOverlap": false}}, "y": {"datum": 106.7, "type": "quantitative", "axis": {"values": [0, 20, 40, 60, 80, 100], "labels": false, "title": null, "labelOverlap": false}}, "text": {"field": "t"}}},
        {"data": {"values": [{"t": "mm"}]}, "mark": {"type": "text", "align": "left", "baseline": "alphabetic", "fontSize": 13, "fontStyle": "italic", "color": "#000"}, "encoding": {"x": {"datum": 128.3, "type": "quantitative", "axis": {"values": [0, 50, 100, 150, 200, 250], "labels": false, "title": null, "labelOverlap": false}}, "y": {"datum": 106.7, "type": "quantitative", "axis": {"values": [0, 20, 40, 60, 80, 100], "labels": false, "title": null, "labelOverlap": false}}, "text": {"field": "t"}}}
      ]
    },
    {
      "width": 246, "height": 196,
      "layer": [
        {
          "data": {"name": "dvh"},
          "transform": [{"filter": "datum.p == 'C'"}],
          "mark": {"type": "line", "strokeWidth": 1.5, "strokeCap": "butt"},
          "encoding": {
            "x": {"field": "d", "type": "quantitative", "scale": {"domain": [0, 250], "nice": false, "zero": false}, "axis": {"values": [0, 50, 100, 150, 200, 250], "labels": false, "title": null, "labelOverlap": false}},
            "y": {"field": "v", "type": "quantitative", "scale": {"domain": [-1, 105], "nice": false, "zero": false}, "axis": {"values": [0, 20, 40, 60, 80, 100], "labels": false, "title": null, "labelOverlap": false}},
            "color": {"field": "s", "type": "nominal", "scale": {"domain": ["Ref. GATE", "15 min - VSV", "10 min - VSV", "5 min - VSV"], "range": ["#000000", "#ff0000", "#0000ff", "#0000ff"]}, "legend": null},
            "strokeDash": {"field": "s", "type": "nominal", "scale": {"domain": ["Ref. GATE", "15 min - VSV", "10 min - VSV", "5 min - VSV"], "range": [[1, 0], [1, 0], [8, 3, 1.5, 3], [1.5, 2.5]]}, "legend": null}
          }
        },
        {"data": {"values": [{"t": "C"}]}, "mark": {"type": "text", "align": "left", "baseline": "alphabetic", "font": "Liberation Sans", "fontSize": 22, "fontWeight": "bold", "color": "#000"}, "encoding": {"x": {"datum": -27.5, "type": "quantitative", "axis": {"values": [0, 50, 100, 150, 200, 250], "labels": false, "title": null, "labelOverlap": false}}, "y": {"datum": 109.3, "type": "quantitative", "axis": {"values": [0, 20, 40, 60, 80, 100], "labels": false, "title": null, "labelOverlap": false}}, "text": {"field": "t"}}},
        {"data": {"values": [{"t": "Φ"}]}, "mark": {"type": "text", "align": "left", "baseline": "alphabetic", "fontSize": 17, "color": "#000"}, "encoding": {"x": {"datum": 96.5, "type": "quantitative", "axis": {"values": [0, 50, 100, 150, 200, 250], "labels": false, "title": null, "labelOverlap": false}}, "y": {"datum": 108.6, "type": "quantitative", "axis": {"values": [0, 20, 40, 60, 80, 100], "labels": false, "title": null, "labelOverlap": false}}, "text": {"field": "t"}}},
        {"data": {"values": [{"t": "22"}]}, "mark": {"type": "text", "align": "left", "baseline": "alphabetic", "fontSize": 13, "color": "#000"}, "encoding": {"x": {"datum": 111.5, "type": "quantitative", "axis": {"values": [0, 50, 100, 150, 200, 250], "labels": false, "title": null, "labelOverlap": false}}, "y": {"datum": 106.7, "type": "quantitative", "axis": {"values": [0, 20, 40, 60, 80, 100], "labels": false, "title": null, "labelOverlap": false}}, "text": {"field": "t"}}},
        {"data": {"values": [{"t": "mm"}]}, "mark": {"type": "text", "align": "left", "baseline": "alphabetic", "fontSize": 13, "fontStyle": "italic", "color": "#000"}, "encoding": {"x": {"datum": 128.3, "type": "quantitative", "axis": {"values": [0, 50, 100, 150, 200, 250], "labels": false, "title": null, "labelOverlap": false}}, "y": {"datum": 106.7, "type": "quantitative", "axis": {"values": [0, 20, 40, 60, 80, 100], "labels": false, "title": null, "labelOverlap": false}}, "text": {"field": "t"}}}
      ]
    },
    {
      "width": 246, "height": 196,
      "layer": [
        {
          "data": {"name": "dvh"},
          "transform": [{"filter": "datum.p == 'D'"}],
          "mark": {"type": "line", "strokeWidth": 1.5, "strokeCap": "butt"},
          "encoding": {
            "x": {"field": "d", "type": "quantitative", "scale": {"domain": [0, 250], "nice": false, "zero": false}, "axis": {"values": [0, 50, 100, 150, 200, 250], "title": "Dose (Gy)", "labelOverlap": false}},
            "y": {"field": "v", "type": "quantitative", "scale": {"domain": [-1, 105], "nice": false, "zero": false}, "axis": {"values": [0, 20, 40, 60, 80, 100], "title": "Volume (%)", "labelOverlap": false}},
            "color": {"field": "s", "type": "nominal", "scale": {"domain": ["Ref. GATE", "15 min - VSV", "10 min - VSV", "5 min - VSV"], "range": ["#000000", "#ff0000", "#0000ff", "#0000ff"]}, "legend": null},
            "strokeDash": {"field": "s", "type": "nominal", "scale": {"domain": ["Ref. GATE", "15 min - VSV", "10 min - VSV", "5 min - VSV"], "range": [[1, 0], [1, 0], [8, 3, 1.5, 3], [1.5, 2.5]]}, "legend": null}
          }
        },
        {"data": {"values": [{"t": "D"}]}, "mark": {"type": "text", "align": "left", "baseline": "alphabetic", "font": "Liberation Sans", "fontSize": 22, "fontWeight": "bold", "color": "#000"}, "encoding": {"x": {"datum": -27.5, "type": "quantitative", "axis": {"values": [0, 50, 100, 150, 200, 250], "title": "Dose (Gy)", "labelOverlap": false}}, "y": {"datum": 110.1, "type": "quantitative", "axis": {"values": [0, 20, 40, 60, 80, 100], "title": "Volume (%)", "labelOverlap": false}}, "text": {"field": "t"}}},
        {"data": {"values": [{"t": "Φ"}]}, "mark": {"type": "text", "align": "left", "baseline": "alphabetic", "fontSize": 17, "color": "#000"}, "encoding": {"x": {"datum": 96.5, "type": "quantitative", "axis": {"values": [0, 50, 100, 150, 200, 250], "title": "Dose (Gy)", "labelOverlap": false}}, "y": {"datum": 107.2, "type": "quantitative", "axis": {"values": [0, 20, 40, 60, 80, 100], "title": "Volume (%)", "labelOverlap": false}}, "text": {"field": "t"}}},
        {"data": {"values": [{"t": "17"}]}, "mark": {"type": "text", "align": "left", "baseline": "alphabetic", "fontSize": 13, "color": "#000"}, "encoding": {"x": {"datum": 111.5, "type": "quantitative", "axis": {"values": [0, 50, 100, 150, 200, 250], "title": "Dose (Gy)", "labelOverlap": false}}, "y": {"datum": 105.8, "type": "quantitative", "axis": {"values": [0, 20, 40, 60, 80, 100], "title": "Volume (%)", "labelOverlap": false}}, "text": {"field": "t"}}},
        {"data": {"values": [{"t": "mm"}]}, "mark": {"type": "text", "align": "left", "baseline": "alphabetic", "fontSize": 13, "fontStyle": "italic", "color": "#000"}, "encoding": {"x": {"datum": 128.3, "type": "quantitative", "axis": {"values": [0, 50, 100, 150, 200, 250], "title": "Dose (Gy)", "labelOverlap": false}}, "y": {"datum": 105.8, "type": "quantitative", "axis": {"values": [0, 20, 40, 60, 80, 100], "title": "Volume (%)", "labelOverlap": false}}, "text": {"field": "t"}}}
      ]
    },
    {
      "width": 246, "height": 196,
      "layer": [
        {
          "data": {"name": "dvh"},
          "transform": [{"filter": "datum.p == 'E'"}],
          "mark": {"type": "line", "strokeWidth": 1.5, "strokeCap": "butt"},
          "encoding": {
            "x": {"field": "d", "type": "quantitative", "scale": {"domain": [0, 250], "nice": false, "zero": false}, "axis": {"values": [0, 50, 100, 150, 200, 250], "title": "Dose (Gy)", "labelOverlap": false}},
            "y": {"field": "v", "type": "quantitative", "scale": {"domain": [-1, 105], "nice": false, "zero": false}, "axis": {"values": [0, 20, 40, 60, 80, 100], "labels": false, "title": null, "labelOverlap": false}},
            "color": {"field": "s", "type": "nominal", "scale": {"domain": ["Ref. GATE", "15 min - VSV", "10 min - VSV", "5 min - VSV"], "range": ["#000000", "#ff0000", "#0000ff", "#0000ff"]}, "legend": null},
            "strokeDash": {"field": "s", "type": "nominal", "scale": {"domain": ["Ref. GATE", "15 min - VSV", "10 min - VSV", "5 min - VSV"], "range": [[1, 0], [1, 0], [8, 3, 1.5, 3], [1.5, 2.5]]}, "legend": null}
          }
        },
        {"data": {"values": [{"t": "E"}]}, "mark": {"type": "text", "align": "left", "baseline": "alphabetic", "font": "Liberation Sans", "fontSize": 22, "fontWeight": "bold", "color": "#000"}, "encoding": {"x": {"datum": -27.5, "type": "quantitative", "axis": {"values": [0, 50, 100, 150, 200, 250], "title": "Dose (Gy)", "labelOverlap": false}}, "y": {"datum": 110.1, "type": "quantitative", "axis": {"values": [0, 20, 40, 60, 80, 100], "labels": false, "title": null, "labelOverlap": false}}, "text": {"field": "t"}}},
        {"data": {"values": [{"t": "Φ"}]}, "mark": {"type": "text", "align": "left", "baseline": "alphabetic", "fontSize": 17, "color": "#000"}, "encoding": {"x": {"datum": 96.5, "type": "quantitative", "axis": {"values": [0, 50, 100, 150, 200, 250], "title": "Dose (Gy)", "labelOverlap": false}}, "y": {"datum": 107.2, "type": "quantitative", "axis": {"values": [0, 20, 40, 60, 80, 100], "labels": false, "title": null, "labelOverlap": false}}, "text": {"field": "t"}}},
        {"data": {"values": [{"t": "13"}]}, "mark": {"type": "text", "align": "left", "baseline": "alphabetic", "fontSize": 13, "color": "#000"}, "encoding": {"x": {"datum": 111.5, "type": "quantitative", "axis": {"values": [0, 50, 100, 150, 200, 250], "title": "Dose (Gy)", "labelOverlap": false}}, "y": {"datum": 105.8, "type": "quantitative", "axis": {"values": [0, 20, 40, 60, 80, 100], "labels": false, "title": null, "labelOverlap": false}}, "text": {"field": "t"}}},
        {"data": {"values": [{"t": "mm"}]}, "mark": {"type": "text", "align": "left", "baseline": "alphabetic", "fontSize": 13, "fontStyle": "italic", "color": "#000"}, "encoding": {"x": {"datum": 128.3, "type": "quantitative", "axis": {"values": [0, 50, 100, 150, 200, 250], "title": "Dose (Gy)", "labelOverlap": false}}, "y": {"datum": 105.8, "type": "quantitative", "axis": {"values": [0, 20, 40, 60, 80, 100], "labels": false, "title": null, "labelOverlap": false}}, "text": {"field": "t"}}}
      ]
    },
    {
      "width": 246, "height": 196,
      "layer": [
        {
          "data": {"name": "dvh"},
          "transform": [{"filter": "datum.p == 'F'"}],
          "mark": {"type": "line", "strokeWidth": 1.5, "strokeCap": "butt"},
          "encoding": {
            "x": {"field": "d", "type": "quantitative", "scale": {"domain": [0, 250], "nice": false, "zero": false}, "axis": {"values": [0, 50, 100, 150, 200, 250], "title": "Dose (Gy)", "labelOverlap": false}},
            "y": {"field": "v", "type": "quantitative", "scale": {"domain": [-1, 105], "nice": false, "zero": false}, "axis": {"values": [0, 20, 40, 60, 80, 100], "labels": false, "title": null, "labelOverlap": false}},
            "color": {"field": "s", "type": "nominal", "scale": {"domain": ["Ref. GATE", "15 min - VSV", "10 min - VSV", "5 min - VSV"], "range": ["#000000", "#ff0000", "#0000ff", "#0000ff"]}, "legend": null},
            "strokeDash": {"field": "s", "type": "nominal", "scale": {"domain": ["Ref. GATE", "15 min - VSV", "10 min - VSV", "5 min - VSV"], "range": [[1, 0], [1, 0], [8, 3, 1.5, 3], [1.5, 2.5]]}, "legend": null}
          }
        },
        {"data": {"values": [{"t": "F"}]}, "mark": {"type": "text", "align": "left", "baseline": "alphabetic", "font": "Liberation Sans", "fontSize": 22, "fontWeight": "bold", "color": "#000"}, "encoding": {"x": {"datum": -27.5, "type": "quantitative", "axis": {"values": [0, 50, 100, 150, 200, 250], "title": "Dose (Gy)", "labelOverlap": false}}, "y": {"datum": 110.1, "type": "quantitative", "axis": {"values": [0, 20, 40, 60, 80, 100], "labels": false, "title": null, "labelOverlap": false}}, "text": {"field": "t"}}},
        {"data": {"values": [{"t": "Φ"}]}, "mark": {"type": "text", "align": "left", "baseline": "alphabetic", "fontSize": 17, "color": "#000"}, "encoding": {"x": {"datum": 96.5, "type": "quantitative", "axis": {"values": [0, 50, 100, 150, 200, 250], "title": "Dose (Gy)", "labelOverlap": false}}, "y": {"datum": 107.2, "type": "quantitative", "axis": {"values": [0, 20, 40, 60, 80, 100], "labels": false, "title": null, "labelOverlap": false}}, "text": {"field": "t"}}},
        {"data": {"values": [{"t": "10"}]}, "mark": {"type": "text", "align": "left", "baseline": "alphabetic", "fontSize": 13, "color": "#000"}, "encoding": {"x": {"datum": 111.5, "type": "quantitative", "axis": {"values": [0, 50, 100, 150, 200, 250], "title": "Dose (Gy)", "labelOverlap": false}}, "y": {"datum": 105.8, "type": "quantitative", "axis": {"values": [0, 20, 40, 60, 80, 100], "labels": false, "title": null, "labelOverlap": false}}, "text": {"field": "t"}}},
        {"data": {"values": [{"t": "mm"}]}, "mark": {"type": "text", "align": "left", "baseline": "alphabetic", "fontSize": 13, "fontStyle": "italic", "color": "#000"}, "encoding": {"x": {"datum": 128.3, "type": "quantitative", "axis": {"values": [0, 50, 100, 150, 200, 250], "title": "Dose (Gy)", "labelOverlap": false}}, "y": {"datum": 105.8, "type": "quantitative", "axis": {"values": [0, 20, 40, 60, 80, 100], "labels": false, "title": null, "labelOverlap": false}}, "text": {"field": "t"}}}
      ]
    }
  ],
  "config": {
    "font": "DejaVu Sans",
    "view": {"stroke": "#333333", "strokeWidth": 1},
    "axis": {
      "grid": true, "gridColor": "#808080", "gridDash": [1.5, 1.5], "gridWidth": 0.8,
      "domain": false, "ticks": true, "tickColor": "#000000", "tickSize": 4, "tickWidth": 0.8,
      "labelFont": "DejaVu Sans", "labelFontSize": 14, "labelColor": "#000000",
      "labelFlush": false, "labelOverlap": false,
      "titleFont": "DejaVu Sans", "titleFontSize": 15, "titleFontWeight": "bold", "titleColor": "#000000"
    },
    "axisX": {"titlePadding": 3, "labelPadding": 1},
    "axisY": {"titlePadding": 5, "labelPadding": 5},
    "text": {"font": "DejaVu Sans"},
    "legend": {
      "padding": 2, "symbolType": "M-1.5,0H1.5", "symbolSize": 289, "symbolStrokeWidth": 1.5, "symbolOffset": 8,
      "labelFont": "DejaVu Sans", "labelFontSize": 12.2, "labelColor": "#000000", "labelOffset": 14,
      "rowPadding": 1.8, "strokeColor": "#cccccc", "fillColor": "rgba(255,255,255,0.85)", "cornerRadius": 3, "offset": 6
    }
  }
}
